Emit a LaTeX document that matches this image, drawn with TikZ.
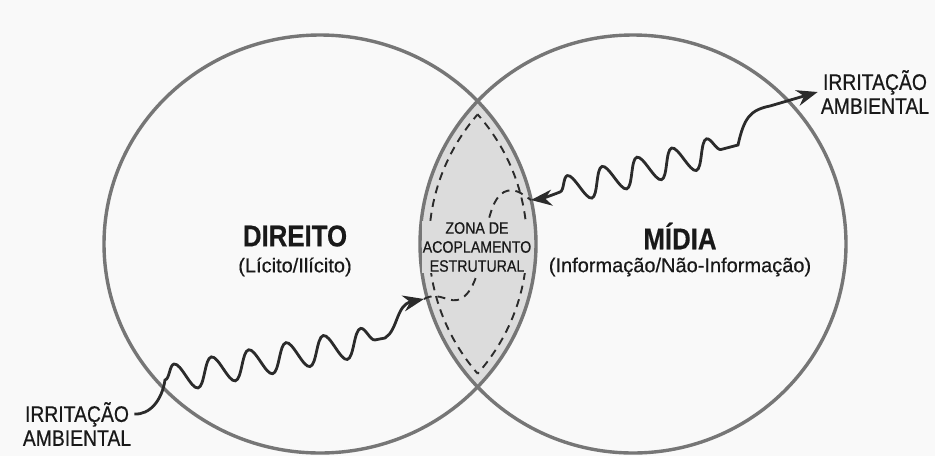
\documentclass[tikz,border=0pt]{standalone}
\usepackage{fontspec}
\setmainfont{Liberation Sans}[FakeStretch=0.86,FakeBold=0.5]
\newfontfamily\widesans{Liberation Sans}[FakeBold=0.4]
\usetikzlibrary{arrows.meta,decorations.pathmorphing,calc}

\definecolor{ringgray}{HTML}{767676}
\definecolor{lensgray}{HTML}{DCDCDC}
\definecolor{inkdark}{HTML}{2B2B2B}
\definecolor{paper}{HTML}{F9F9F9}

\begin{document}
\begin{tikzpicture}[x=1pt,y=-1pt,
  ring/.style={draw=ringgray, line width=3.4pt},
  lensdash/.style={draw=inkdark, line width=1.9pt, dash pattern=on 8pt off 6pt},
  wave/.style={draw=inkdark, line width=2.8pt, -{Stealth[length=21pt,width=16pt]}},
  irr/.style={align=center, inner sep=3pt, text=black!90, font=\fontsize{22.5}{24}\selectfont}]
\useasboundingbox (0,0) rectangle (935,456);
\fill[paper] (0,0) rectangle (935,456);

% zona de acoplamento
\begin{scope}
\clip (320,244) ellipse [x radius=216, y radius=209];
\fill[lensgray] (633,244) ellipse [x radius=213, y radius=209];
\end{scope}
\begin{scope}
\clip (633,244) ellipse [x radius=204, y radius=200];
\draw[lensdash] (320,244) ellipse [x radius=207, y radius=200];
\end{scope}
\begin{scope}
\clip (320,244) ellipse [x radius=207, y radius=200];
\draw[lensdash] (633,244) ellipse [x radius=204, y radius=200];
\end{scope}

\draw[ring] (320,244) ellipse [x radius=216, y radius=209];
\draw[ring] (633,244) ellipse [x radius=213, y radius=209];

\coordinate (inL) at (424,299);
\coordinate (inR) at (531,200);

\draw[lensdash] (inL) .. controls (440,290) and (450,306) .. (462,298)
  .. controls (488,282) and (480,205) .. (504,192)
  .. controls (515,187) and (522,194) .. (inR);

\node (zona) [fill=lensgray, inner sep=1pt, align=center, text=black!90, font=\fontsize{16.5}{19}\selectfont] at (477,247)
  {ZONA DE\\ACOPLAMENTO\\ESTRUTURAL};

\node (direito) [text=black!90, font=\fontsize{30}{32}\selectfont\bfseries] at (295,236) {DIREITO};
\node (direitoCod) [text=black!90, font=\widesans\fontsize{20}{22}\selectfont] at (295,267) {(Lícito/Ilícito)};
\node (midia) [text=black!90, font=\fontsize{30}{32}\selectfont\bfseries] at (680,236) {MÍDIA};
\node (midiaCod) [text=black!90, font=\widesans\fontsize{20}{22}\selectfont] at (680,267) {(Informação/Não-Informação)};

\node (irrL) [irr] at (77,424) {IRRITAÇÃO\\AMBIENTAL};
\node (irrR) [irr] at (875,92) {IRRITAÇÃO\\AMBIENTAL};

% irritacoes
\draw[wave] ([yshift=10pt]irrL.east) .. controls (150,415) and (162,400) .. (165,380)
  decorate[decoration={snake, amplitude=14pt, segment length=38pt}] {-- (385,338)}
  .. controls (398,330) and (396,305) .. (inL);
\draw[wave, {Stealth[length=21pt,width=16pt]}-{Stealth[length=21pt,width=16pt]}] (inR)
  .. controls (540,199) and (550,196) .. (560,192)
  decorate[decoration={snake, amplitude=14pt, segment length=36pt}] {-- (738,145)}
  .. controls (744,118) and (750,110) .. (770,106) -- (irrR.west);
\end{tikzpicture}
\end{document}
